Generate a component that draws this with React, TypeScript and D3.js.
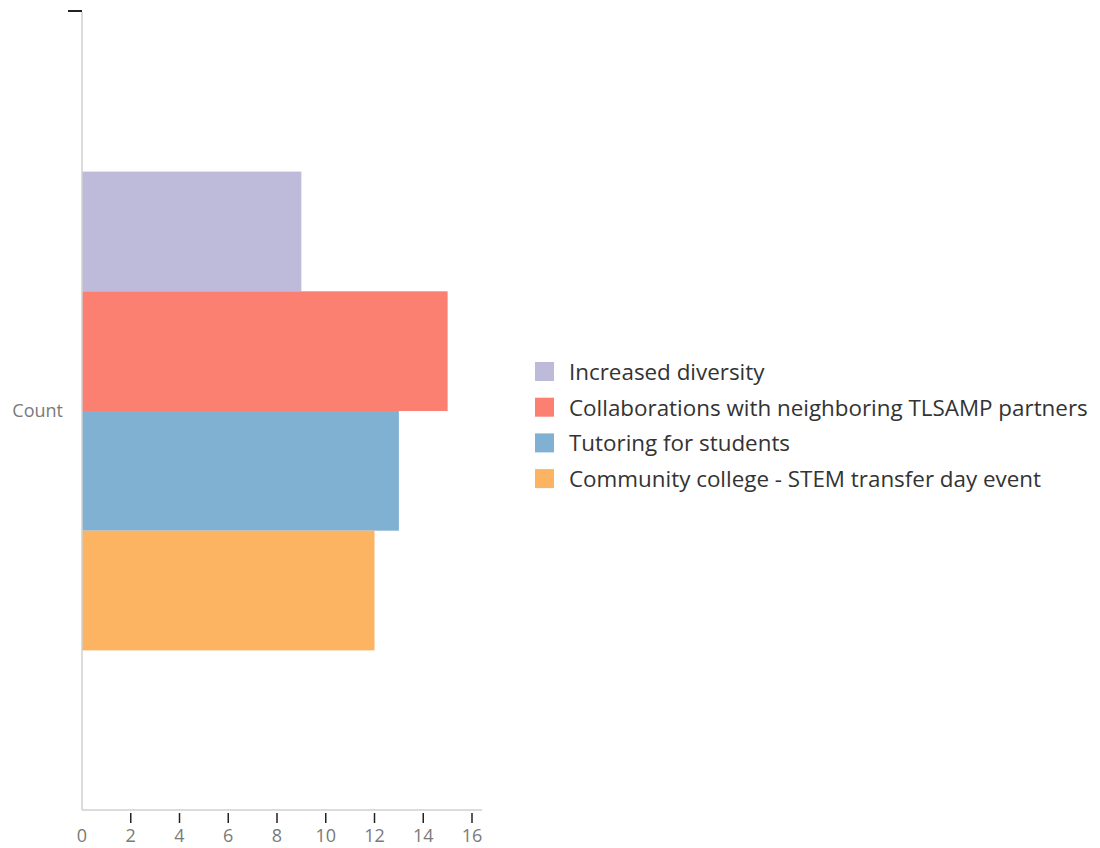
import React, { useEffect, useRef } from "react";
import * as d3 from "d3";

const categories = ["Count"];
const seriesNames = [
  "Increased diversity",
  "Collaborations with neighboring TLSAMP partners",
  "Tutoring for students",
  "Community college - STEM transfer day event",
];
const seriesValues = [9, 15, 13, 12];
const seriesColors = ["#bebada", "#fb8072", "#80b1d3", "#fdb462"];
const xTicks = [0, 2, 4, 6, 8, 10, 12, 14, 16];

export default function App() {
  const svgRef = useRef<SVGSVGElement>(null);

  useEffect(() => {
    const svg = d3.select(svgRef.current);
    svg.selectAll("*").remove();

    const left = 82, top = 12, bottom = 810, right = 482;
    const font = "'Open Sans', sans-serif";

    const x = d3.scaleLinear().domain([0, 16]).range([left, 472]);
    const y = d3.scaleBand().domain(categories).range([top, bottom]).padding(0.25);
    const inner = d3.scaleBand().domain(seriesNames).range([0, y.bandwidth()]);

    // bars
    const g = svg.append("g");
    categories.forEach((c) => {
      g.selectAll("rect.bar")
        .data(seriesNames)
        .join("rect")
        .attr("class", "bar")
        .attr("x", x(0))
        .attr("y", (d) => (y(c) as number) + (inner(d) as number))
        .attr("width", (d, i) => x(seriesValues[i]) - x(0))
        .attr("height", inner.bandwidth())
        .attr("fill", (d, i) => seriesColors[i]);
    });

    // x axis
    svg.append("line")
      .attr("x1", left).attr("x2", right)
      .attr("y1", bottom).attr("y2", bottom)
      .attr("stroke", "#d0d0d0").attr("stroke-width", 1.5);
    const xt = svg.append("g");
    xt.selectAll("line")
      .data(xTicks.filter((t) => t !== 0))
      .join("line")
      .attr("x1", (d) => x(d)).attr("x2", (d) => x(d))
      .attr("y1", bottom + 3).attr("y2", bottom + 13)
      .attr("stroke", "#222").attr("stroke-width", 1.5);
    xt.selectAll("text")
      .data(xTicks)
      .join("text")
      .attr("x", (d) => x(d))
      .attr("y", 842)
      .attr("text-anchor", "middle")
      .attr("font-family", font)
      .attr("font-size", 18)
      .attr("fill", "#7a7a7a")
      .text((d) => d);

    // y axis
    svg.append("line")
      .attr("x1", left).attr("x2", left)
      .attr("y1", top).attr("y2", bottom)
      .attr("stroke", "#d0d0d0").attr("stroke-width", 1.5);
    svg.append("line")
      .attr("x1", 68).attr("x2", left)
      .attr("y1", top - 1).attr("y2", top - 1)
      .attr("stroke", "#222").attr("stroke-width", 2);
    svg.selectAll("text.ylab")
      .data(categories)
      .join("text")
      .attr("class", "ylab")
      .attr("x", 63)
      .attr("y", (d) => (y(d) as number) + y.bandwidth() / 2 + 6)
      .attr("text-anchor", "end")
      .attr("font-family", font)
      .attr("font-size", 18)
      .attr("fill", "#7a7a7a")
      .text((d) => d);

    // legend
    const legend = svg.append("g").attr("transform", "translate(535,362)");
    const item = legend.selectAll("g")
      .data(seriesNames)
      .join("g")
      .attr("transform", (d, i) => `translate(0,${i * 35.7})`);
    item.append("rect")
      .attr("width", 19).attr("height", 19)
      .attr("fill", (d, i) => seriesColors[i]);
    item.append("text")
      .attr("x", 34).attr("y", 18)
      .attr("font-family", font)
      .attr("font-size", 22.4)
      .attr("fill", "#333")
      .text((d) => d);
  }, []);

  return <svg ref={svgRef} width={1100} height={848} style={{ position: "absolute", left: 0, top: 0 }} />;
}
